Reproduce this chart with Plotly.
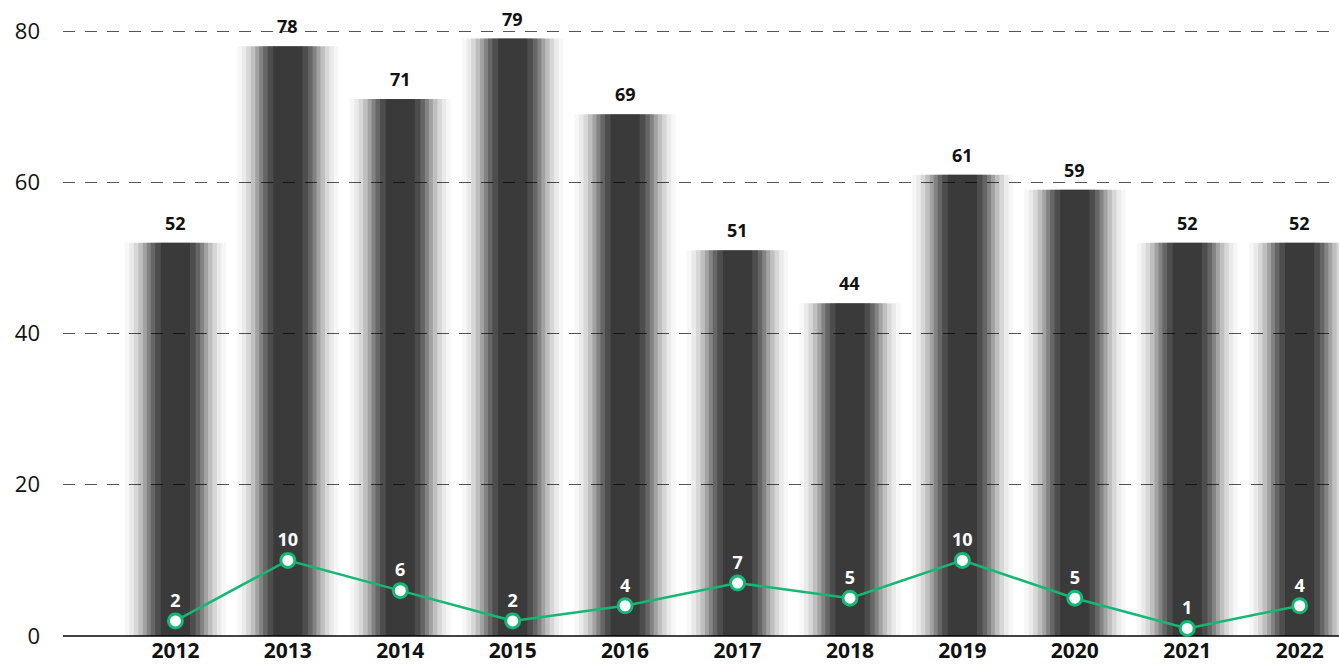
import plotly.graph_objects as go

years = ["2012", "2013", "2014", "2015", "2016", "2017", "2018", "2019", "2020", "2021", "2022"]
totals = [52, 78, 71, 79, 69, 51, 44, 61, 59, 52, 52]
subset = [2, 10, 6, 2, 4, 7, 5, 10, 5, 1, 4]
y_ticks = [0, 20, 40, 60, 80]

FONT = "Open Sans"
GREEN = "#14b873"
PX_PER_CAT = 112.4

xpos = list(range(len(years)))

fig = go.Figure()

# soft "sprayed" bars: overlaid translucent vertical strokes of decreasing width,
# each running from 0 to the bar's value
layers = [(0.90, 0.03), (0.82, 0.05), (0.74, 0.08), (0.66, 0.11), (0.58, 0.15),
          (0.51, 0.19), (0.44, 0.22), (0.36, 0.24), (0.26, 0.24)]
bx, by = [], []
for i, v in zip(xpos, totals):
    bx += [i, i, None]
    by += [0, v, None]
for w, a in layers:
    fig.add_trace(go.Scatter(
        x=bx, y=by, mode="lines",
        line=dict(color=f"rgba(0,0,0,{a})", width=w * PX_PER_CAT),
        hoverinfo="skip", showlegend=False, cliponaxis=True,
    ))

fig.add_trace(go.Scatter(
    x=xpos, y=subset, mode="lines+markers+text",
    line=dict(color=GREEN, width=2.5),
    marker=dict(size=14, color="white", line=dict(color=GREEN, width=3)),
    text=[str(v) for v in subset], textposition="top center",
    textfont=dict(family=FONT, size=18, color="white", weight="bold"),
    showlegend=False, cliponaxis=False,
))

for i, v in zip(xpos, totals):
    fig.add_annotation(x=i, y=v, text=f"<b>{v}</b>", showarrow=False,
                       yshift=20, font=dict(family=FONT, size=18, color="#111"))

fig.update_layout(
    width=1339, height=668,
    margin=dict(l=63, r=0, t=0, b=32),
    plot_bgcolor="white", paper_bgcolor="white",
    font=dict(family=FONT),
)
fig.update_xaxes(
    range=[-1.0, 10.35], tickvals=xpos, ticktext=years,
    showgrid=False, showline=False, zeroline=False,
    ticks="", tickfont=dict(family=FONT, size=21, color="#111", weight="bold"),
)
fig.update_yaxes(
    range=[0, 84.1], tickvals=y_ticks,
    showgrid=True, gridcolor="#555", griddash="12px,10px", gridwidth=1,
    zeroline=True, zerolinecolor="#444", zerolinewidth=1.5,
    showline=False, ticks="", ticklabelstandoff=22,
    tickfont=dict(family=FONT, size=22, color="#111"),
)

fig.write_html("out.html")
